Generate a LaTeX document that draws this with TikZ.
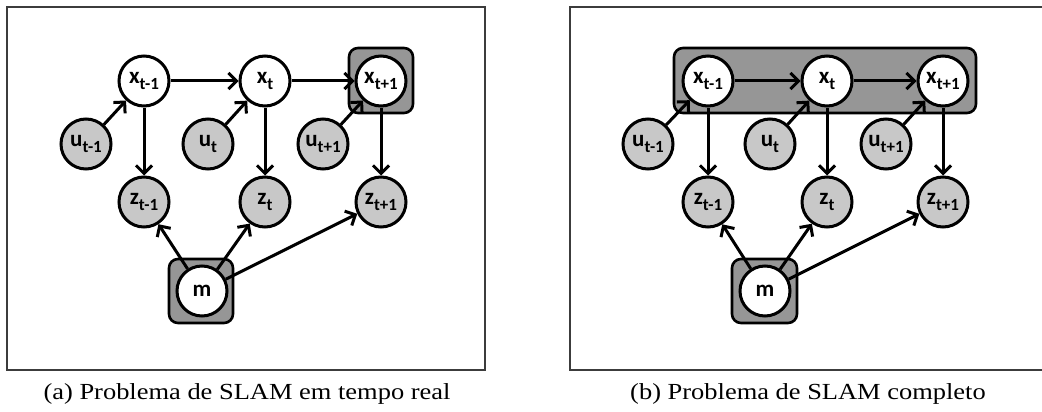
\documentclass[tikz,border=0pt]{standalone}
\usepackage{fontspec}
\setmainfont{Liberation Serif}
\newfontfamily\lblfont{Carlito}
\usetikzlibrary{arrows.meta}
\definecolor{lightg}{RGB}{200,200,200}
\definecolor{darkg}{RGB}{150,150,150}
\definecolor{framec}{RGB}{60,60,60}
\newcommand{\lab}[2]{#1\raisebox{-0.3em}{\fontsize{17}{17}\selectfont #2}}
\begin{document}
\begin{tikzpicture}[x=1pt,y=-1pt,
  var/.style={circle,draw=black,line width=3pt,minimum size=50pt,inner sep=0pt,
    font=\lblfont\bfseries\fontsize{23}{23}\selectfont},
  obs/.style={var,fill=lightg},
  hid/.style={var,fill=white},
  arr/.style={line width=3pt,-{Straight Barb[length=8pt,width=16pt,line width=3pt]}},
  grp/.style={draw=black,line width=2.6pt,fill=darkg,rounded corners=9pt},
  frm/.style={draw=framec,line width=1.3pt},
  captext/.style={font=\fontsize{23}{23}\selectfont}
]
\path[use as bounding box] (0,0) rectangle (1042,412);

% frames
\draw[frm] (7,7) rectangle (485,370);
\draw[frm] (1042,7) -- (570,7) -- (570,370) -- (1042,370);

% ---------- panel (a) ----------
\draw[grp] (349,48) rectangle (413,113);
\draw[grp] (169,259) rectangle (233,323);
\node[hid] (xa1) at (144,81) {\lab{x}{t-1}};
\node[hid] (xa2) at (265,81) {\lab{x}{t}};
\node[hid] (xa3) at (381,81) {\lab{x}{t+1}};
\node[obs] (ua1) at (86,144) {\lab{u}{t-1}};
\node[obs] (ua2) at (208,144) {\lab{u}{t}};
\node[obs] (ua3) at (323,144) {\lab{u}{t+1}};
\node[obs] (za1) at (144,202) {\lab{z}{t-1}};
\node[obs] (za2) at (265,202) {\lab{z}{t}};
\node[obs] (za3) at (381,202) {\lab{z}{t+1}};
\node[hid] (ma) at (202,291) {m};
\draw[arr] (xa1) -- (xa2);
\draw[arr] (xa2) -- (xa3);
\draw[arr] (ua1) -- (xa1);
\draw[arr] (ua2) -- (xa2);
\draw[arr] (ua3) -- (xa3);
\draw[arr] (xa1) -- (za1);
\draw[arr] (xa2) -- (za2);
\draw[arr] (xa3) -- (za3);
\draw[arr] (ma) -- (za1);
\draw[arr] (ma) -- (za2);
\draw[arr] (ma) -- (za3);
\node[captext] (capa) at (247,394) {\scalebox{1.15}[1]{(a) Problema de SLAM em tempo real}};

% ---------- panel (b) ----------
\draw[grp] (674,48) rectangle (976,113);
\draw[grp] (732,259) rectangle (797,323);
\node[hid] (xb1) at (708,81) {\lab{x}{t-1}};
\node[hid] (xb2) at (827,81) {\lab{x}{t}};
\node[hid] (xb3) at (943,81) {\lab{x}{t+1}};
\node[obs] (ub1) at (648,144) {\lab{u}{t-1}};
\node[obs] (ub2) at (770,144) {\lab{u}{t}};
\node[obs] (ub3) at (886,144) {\lab{u}{t+1}};
\node[obs] (zb1) at (708,202) {\lab{z}{t-1}};
\node[obs] (zb2) at (827,202) {\lab{z}{t}};
\node[obs] (zb3) at (943,202) {\lab{z}{t+1}};
\node[hid] (mb) at (765,291) {m};
\draw[arr] (xb1) -- (xb2);
\draw[arr] (xb2) -- (xb3);
\draw[arr] (ub1) -- (xb1);
\draw[arr] (ub2) -- (xb2);
\draw[arr] (ub3) -- (xb3);
\draw[arr] (xb1) -- (zb1);
\draw[arr] (xb2) -- (zb2);
\draw[arr] (xb3) -- (zb3);
\draw[arr] (mb) -- (zb1);
\draw[arr] (mb) -- (zb2);
\draw[arr] (mb) -- (zb3);
\node[captext] (capb) at (808,394) {\scalebox{1.15}[1]{(b) Problema de SLAM completo}};
\end{tikzpicture}
\end{document}
